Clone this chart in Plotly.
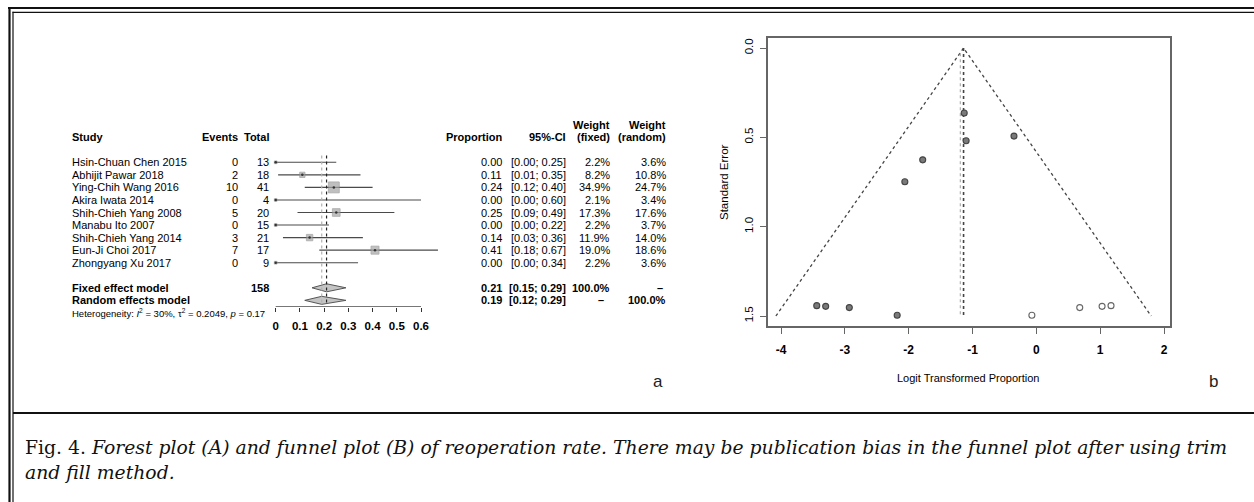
import plotly.graph_objects as go

W, H = 1254, 502

# ---------------- Forest plot data ----------------
studies = ["Hsin-Chuan Chen 2015", "Abhijit Pawar 2018", "Ying-Chih Wang 2016",
           "Akira Iwata 2014", "Shih-Chieh Yang 2008", "Manabu Ito 2007",
           "Shih-Chieh Yang 2014", "Eun-Ji Choi 2017", "Zhongyang Xu 2017"]
events = [0, 2, 10, 0, 5, 0, 3, 7, 0]
totals = [13, 18, 41, 4, 20, 15, 21, 17, 9]
prop = [0.00, 0.11, 0.24, 0.00, 0.25, 0.00, 0.14, 0.41, 0.00]
ci_lo = [0.00, 0.01, 0.12, 0.00, 0.09, 0.00, 0.03, 0.18, 0.00]
ci_hi = [0.25, 0.35, 0.40, 0.60, 0.49, 0.22, 0.36, 0.67, 0.34]
w_fixed = [2.2, 8.2, 34.9, 2.1, 17.3, 2.2, 11.9, 19.0, 2.2]
w_random = [3.6, 10.8, 24.7, 3.4, 17.6, 3.7, 14.0, 18.6, 3.6]

fixed_est, fixed_lo, fixed_hi = 0.21, 0.15, 0.29
random_est, random_lo, random_hi = 0.19, 0.12, 0.29
total_n = 158
forest_ticks = [0, 0.1, 0.2, 0.3, 0.4, 0.5, 0.6]
forest_ticklabels = ["0", "0.1", "0.2", "0.3", "0.4", "0.5", "0.6"]

# ---------------- Funnel plot data ----------------
obs_logit = [-1.13, -1.10, -0.35, -1.78, -2.06, -3.44, -3.30, -2.93, -2.18]
obs_se = [0.364, 0.519, 0.493, 0.626, 0.749, 1.442, 1.446, 1.453, 1.496]
fill_logit = [-0.07, 0.68, 1.03, 1.17]
fill_se = [1.496, 1.453, 1.446, 1.442]
funnel_x = [-4.08, -1.14, 1.80]
funnel_y = [1.5, 0.0, 1.5]
fixed_center = -1.14
random_center = -1.19
funnel_xticks = [-4, -3, -2, -1, 0, 1, 2]
funnel_xticklabels = ["-4", "-3", "-2", "-1", "0", "1", "2"]
funnel_yticks = [0.0, 0.5, 1.0, 1.5]
funnel_yticklabels = ["0.0", "0.5", "1.0", "1.5"]

caption_line1 = ("Fig. 4. <i>Forest plot (A) and funnel plot (B) of reoperation rate. "
                 "There may be publication bias in the funnel plot after using trim</i>")
caption_line2 = "<i>and fill method.</i>"

# ---------------- helpers ----------------
def px(x):
    return x / W

def py(y):
    return 1 - y / H

ROW0, ROWH = 162.3, 12.55          # pixel y of first study row and row height
F0, FSCALE = 275.7, 242.2          # pixel x of proportion 0, px per unit
AX_ROW = 11.5                      # row position of forest axis line

def rowpx(r):
    return ROW0 + ROWH * r

fy_top_px, fy_bot_px = 105, rowpx(AX_ROW)
fx_l_px, fx_r_px = 200, 470

SANS = "Liberation Sans, Arial, sans-serif"
TXT = "#000000"

fig = go.Figure()

rows = list(range(len(studies)))

# CI lines
for i in rows:
    fig.add_trace(go.Scatter(x=[ci_lo[i], ci_hi[i]], y=[i, i], mode="lines",
                             line=dict(color="#4a4a4a", width=1.1),
                             hoverinfo="skip", showlegend=False,
                             xaxis="x", yaxis="y"))
# squares (area ~ fixed weight)
sizes = [1.85 * (w ** 0.5) for w in w_fixed]
fig.add_trace(go.Scatter(x=prop, y=rows, mode="markers",
                         marker=dict(symbol="square", size=sizes, color="#a5a5a5",
                                     line=dict(color="#888888", width=0.8)),
                         hoverinfo="skip", showlegend=False, xaxis="x", yaxis="y"))
fig.add_trace(go.Scatter(x=prop, y=rows, mode="markers",
                         marker=dict(symbol="circle", size=2.5, color="#333333"),
                         hoverinfo="skip", showlegend=False, xaxis="x", yaxis="y"))

# diamonds
DH = 0.32
for row, (e, lo, hi) in ((10, (fixed_est, fixed_lo, fixed_hi)),
                         (11, (random_est, random_lo, random_hi))):
    fig.add_trace(go.Scatter(x=[lo, e, hi, e, lo], y=[row, row - DH, row, row + DH, row],
                             mode="lines", fill="toself", fillcolor="#c4c4c4",
                             line=dict(color="#555555", width=1),
                             hoverinfo="skip", showlegend=False, xaxis="x", yaxis="y"))

# vertical reference lines
fig.add_trace(go.Scatter(x=[random_est, random_est], y=[-0.55, 11.2], mode="lines",
                         line=dict(color="#b0b0b0", width=1.2, dash="dot"),
                         hoverinfo="skip", showlegend=False, xaxis="x", yaxis="y"))
fig.add_trace(go.Scatter(x=[fixed_est, fixed_est], y=[-0.55, 11.2], mode="lines",
                         line=dict(color="#222222", width=1.2, dash="dot"),
                         hoverinfo="skip", showlegend=False, xaxis="x", yaxis="y"))
# axis line
fig.add_trace(go.Scatter(x=[forest_ticks[0], forest_ticks[-1]], y=[AX_ROW, AX_ROW],
                         mode="lines", line=dict(color="#333333", width=1),
                         hoverinfo="skip", showlegend=False, xaxis="x", yaxis="y"))

# ---------------- funnel traces ----------------
fig.add_trace(go.Scatter(x=funnel_x, y=funnel_y, mode="lines",
                         line=dict(color="#444444", width=1.3, dash="dot"),
                         hoverinfo="skip", showlegend=False, xaxis="x2", yaxis="y2"))
fig.add_trace(go.Scatter(x=[random_center, random_center], y=[0.03, 1.5], mode="lines",
                         line=dict(color="#b5b5b5", width=1.3, dash="dot"),
                         hoverinfo="skip", showlegend=False, xaxis="x2", yaxis="y2"))
fig.add_trace(go.Scatter(x=[fixed_center, fixed_center], y=[0.0, 1.5], mode="lines",
                         line=dict(color="#444444", width=1.6, dash="dot"),
                         hoverinfo="skip", showlegend=False, xaxis="x2", yaxis="y2"))
fig.add_trace(go.Scatter(x=obs_logit, y=obs_se, mode="markers",
                         marker=dict(symbol="circle", size=6, color="#7a7a7a",
                                     line=dict(color="#444444", width=1.1)),
                         hoverinfo="skip", showlegend=False, xaxis="x2", yaxis="y2"))
fig.add_trace(go.Scatter(x=fill_logit, y=fill_se, mode="markers",
                         marker=dict(symbol="circle", size=6, color="white",
                                     line=dict(color="#666666", width=1.1)),
                         hoverinfo="skip", showlegend=False, xaxis="x2", yaxis="y2"))

# ---------------- annotations ----------------
ann = []

def txt(x, yrow, s, anchor="left", size=11, bold=False, paper=False):
    yv, yref = (py(rowpx(yrow)), "paper") if paper else (yrow, "y")
    ann.append(dict(x=px(x), y=yv, xref="paper", yref=yref,
                    text=(f"<b>{s}</b>" if bold else s),
                    showarrow=False, xanchor=anchor, yanchor="middle",
                    font=dict(family=SANS, size=size, color=TXT), borderpad=0))

X_NAME, X_EV, X_TOT = 71, 239, 270
X_PROP, X_CI, X_WF, X_WR = 503, 567, 611, 667

# headers
txt(X_WF, -3, "Weight", "right", bold=True)
txt(X_WR, -3, "Weight", "right", bold=True)
txt(X_NAME, -2, "Study", bold=True)
txt(X_EV, -2, "Events", "right", bold=True)
txt(X_TOT, -2, "Total", "right", bold=True)
txt(X_PROP, -2, "Proportion", "right", bold=True)
txt(X_CI, -2, "95%-CI", "right", bold=True)
txt(X_WF, -2, "(fixed)", "right", bold=True)
txt(X_WR, -2, "(random)", "right", bold=True)

for i in rows:
    txt(X_NAME, i, studies[i])
    txt(X_EV, i, str(events[i]), "right")
    txt(X_TOT, i, str(totals[i]), "right")
    txt(X_PROP, i, f"{prop[i]:.2f}", "right")
    txt(X_CI, i, f"[{ci_lo[i]:.2f}; {ci_hi[i]:.2f}]", "right")
    txt(X_WF, i, f"{w_fixed[i]:.1f}%", "right")
    txt(X_WR, i, f"{w_random[i]:.1f}%", "right")

txt(X_NAME, 10, "Fixed effect model", bold=True)
txt(X_TOT, 10, str(total_n), "right", bold=True)
txt(X_PROP, 10, f"{fixed_est:.2f}", "right", bold=True)
txt(X_CI, 10, f"[{fixed_lo:.2f}; {fixed_hi:.2f}]", "right", bold=True)
txt(X_WF, 10, "100.0%", "right", bold=True)
txt(X_WR - 3, 10, "\u2013", "right", bold=True)
txt(X_NAME, 11, "Random effects model", bold=True)
txt(X_PROP, 11, f"{random_est:.2f}", "right", bold=True)
txt(X_CI, 11, f"[{random_lo:.2f}; {random_hi:.2f}]", "right", bold=True)
txt(X_WF - 6, 11, "\u2013", "right", bold=True)
txt(X_WR, 11, "100.0%", "right", bold=True)
txt(X_NAME, 12, "Heterogeneity: <i>I</i><sup>2</sup> = 30%, \u03c4<sup>2</sup> = 0.2049, <i>p</i> = 0.17",
    size=9.5, paper=True)

# panel letters
ann.append(dict(x=px(658), y=py(381), xref="paper", yref="paper", text="a", showarrow=False,
                xanchor="center", yanchor="middle", font=dict(family=SANS, size=17, color="#222")))
ann.append(dict(x=px(1213), y=py(381), xref="paper", yref="paper", text="b", showarrow=False,
                xanchor="center", yanchor="middle", font=dict(family=SANS, size=17, color="#222")))

# funnel axis titles
ann.append(dict(x=px(724), y=py(182), xref="paper", yref="paper", text="Standard Error",
                showarrow=False, textangle=-90, xanchor="center", yanchor="middle",
                font=dict(family=SANS, size=11.5, color=TXT)))
ann.append(dict(x=px(968), y=py(378), xref="paper", yref="paper",
                text="Logit Transformed Proportion", showarrow=False,
                xanchor="center", yanchor="middle", font=dict(family=SANS, size=11, color=TXT)))

# caption
SERIF = "DejaVu Serif, Liberation Serif, serif"
ann.append(dict(x=px(23), y=py(447), xref="paper", yref="paper", text=caption_line1,
                showarrow=False, xanchor="left", yanchor="middle",
                font=dict(family=SERIF, size=18.8, color="#111")))
ann.append(dict(x=px(23), y=py(472), xref="paper", yref="paper", text=caption_line2,
                showarrow=False, xanchor="left", yanchor="middle",
                font=dict(family=SERIF, size=18.8, color="#111")))

# ---------------- frame shapes ----------------
shapes = []
def hline(y, x0, x1, w, c="#111"):
    shapes.append(dict(type="line", xref="paper", yref="paper", x0=px(x0), x1=px(x1),
                       y0=py(y), y1=py(y), line=dict(color=c, width=w)))
def vline(x, y0, y1, w, c="#111"):
    shapes.append(dict(type="line", xref="paper", yref="paper", x0=px(x), x1=px(x),
                       y0=py(y0), y1=py(y1), line=dict(color=c, width=w)))

hline(8, 8, W, 2.2)
hline(12.3, 12.5, W, 1.2)
vline(9.5, 7, H, 2.2)
vline(13, 11.7, H, 1.2)
hline(413, 13, W, 2.2)

fig.update_layout(
    width=W, height=H, margin=dict(l=0, r=0, t=0, b=0),
    paper_bgcolor="white", plot_bgcolor="white", showlegend=False,
    annotations=ann, shapes=shapes,
    xaxis=dict(domain=[px(fx_l_px), px(fx_r_px)],
               range=[(fx_l_px - F0) / FSCALE, (fx_r_px - F0) / FSCALE],
               showgrid=False, zeroline=False, showline=False,
               tickmode="array", tickvals=forest_ticks, ticktext=forest_ticklabels,
               ticks="outside", ticklen=4, tickwidth=1, tickcolor="#333",
               ticklabelstandoff=5,
               tickfont=dict(family=SANS, size=11.5, color=TXT, weight="bold"),
               fixedrange=True),
    yaxis=dict(domain=[py(fy_bot_px), py(fy_top_px)],
               range=[AX_ROW, (fy_top_px - ROW0) / ROWH],
               visible=False, fixedrange=True),
    xaxis2=dict(domain=[px(768), px(1170)], anchor="y2",
                range=[-4 - 13 / 63.83, 2 + 6 / 63.83],
                showgrid=False, zeroline=False, showline=True, mirror=True,
                linecolor="#666", linewidth=1.5,
                tickmode="array", tickvals=funnel_xticks, ticktext=funnel_xticklabels,
                ticks="outside", ticklen=6, tickwidth=1.2, tickcolor="#666",
                ticklabelstandoff=6,
                tickfont=dict(family=SANS, size=12, color=TXT, weight="bold"),
                fixedrange=True),
    yaxis2=dict(domain=[py(326), py(38)], anchor="x2",
                range=[1.5 + 10 / 178.67, -10 / 178.67],
                showgrid=False, zeroline=False, showline=True, mirror=True,
                linecolor="#666", linewidth=1.5,
                tickmode="array", tickvals=funnel_yticks, ticktext=funnel_yticklabels,
                ticks="outside", ticklen=6, tickwidth=1.2, tickcolor="#666",
                tickangle=-90, ticklabelstandoff=3,
                tickfont=dict(family=SANS, size=11.5, color=TXT), fixedrange=True),
)

fig.write_html("out.html", config={"displayModeBar": False},
               post_script="document.body.style.margin='0px';")
